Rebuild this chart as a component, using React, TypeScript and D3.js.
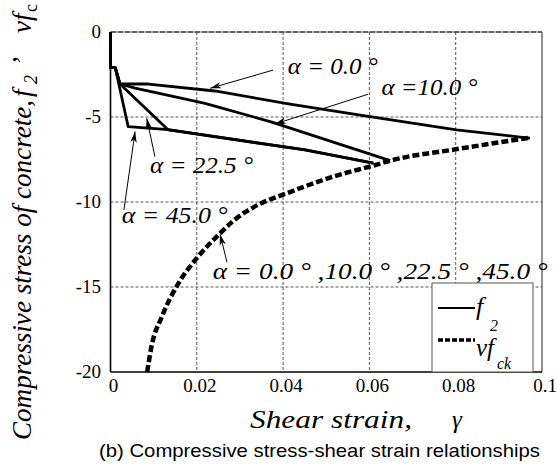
import React from 'react';
import * as d3 from 'd3';

// ---------- data ----------
const xTicks = [0, 0.02, 0.04, 0.06, 0.08, 0.1];
const xTickLabels = ['0', '0.02', '0.04', '0.06', '0.08', '0.1'];
const yTicks = [0, -5, -10, -15, -20];
const yTickLabels = ['0', '-5', '-10', '-15', '-20'];

// f2 curves (shear strain, compressive stress)
const strainA0 = [0, 0, 0.0011, 0.0022, 0.0088, 0.0242, 0.0416, 0.0601, 0.0802, 0.0949, 0.0972];
const stressA0 = [0, -2.1, -2.1, -3.06, -3.06, -3.47, -4.24, -4.98, -5.76, -6.18, -6.24];

const strainA10 = [0, 0, 0.0011, 0.0022, 0.0057, 0.0219, 0.0374, 0.0648];
const stressA10 = [0, -2.1, -2.1, -3.06, -3.3, -4.2, -5.3, -7.57];

const strainA22 = [0, 0, 0.0011, 0.0022, 0.0134, 0.0451, 0.0609];
const stressA22 = [0, -2.1, -2.1, -3.06, -5.76, -6.94, -7.72];

const strainA45 = [0, 0, 0.0011, 0.0041, 0.0134, 0.0451, 0.0609];
const stressA45 = [0, -2.1, -2.1, -5.57, -5.74, -6.94, -7.72];

// vf_ck curve
const vfckStrain = [0.0085, 0.0095, 0.0119, 0.0157, 0.02, 0.0254, 0.0285, 0.0339, 0.0408, 0.0516, 0.0617, 0.0648, 0.08, 0.0972];
const vfckStress = [-20, -18.5, -16.75, -14.8, -13.3, -11.84, -11.1, -10.2, -9.49, -8.51, -7.8, -7.57, -6.9, -6.22];

const angleLabels = ['α = 0.0 °', 'α =10.0 °', 'α = 22.5 °', 'α = 45.0 °', 'α = 0.0 ° ,10.0 ° ,22.5 ° ,45.0 °'];
const legendLabels = ['f', 'vf'];
const legendSubs = ['2', 'ck'];

const SERIF = "'Times New Roman'";
const SANS = "'Liberation Sans'";

export default function App() {
  const W = 557, H = 472;
  const x = d3.scaleLinear().domain([0, 0.1]).range([110.5, 542]);
  const y = d3.scaleLinear().domain([-20, 0]).range([372, 32]);

  const line = d3.line<[number, number]>().x(d => x(d[0])).y(d => y(d[1]));
  const curve = d3.line<[number, number]>().x(d => x(d[0])).y(d => y(d[1])).curve(d3.curveMonotoneX);

  const zip = (a: number[], b: number[]) => a.map((v, i) => [v, b[i]] as [number, number]);
  const solids = [zip(strainA0, stressA0), zip(strainA10, stressA10), zip(strainA22, stressA22), zip(strainA45, stressA45)];
  const dashed = zip(vfckStrain, vfckStress);

  const anns = [
    { i: 0, tx: 0.0411, ty: -2.47, len: 90, a: [0.0377, -2.24, 0.0231, -3.31] },
    { i: 1, tx: 0.0628, ty: -3.71, len: 96, a: [0.0597, -3.66, 0.0381, -5.41] },
    { i: 2, tx: 0.00915, ty: -8.31, len: 103, a: [0.0103, -7.34, 0.0084, -5.08] },
    { i: 3, tx: 0.0026, ty: -11.22, len: 106, a: [0.0031, -10.47, 0.0057, -5.86] },
    { i: 4, tx: 0.0237, ty: -14.5, len: 335, a: [0.027, -13.55, 0.0254, -11.9] },
  ];

  const serif = { fontFamily: SERIF };
  const serifI = { fontFamily: SERIF, fontStyle: 'italic' as const };

  return (
    <svg width={W} height={H} style={{ position: 'absolute', left: 0, top: 0, background: '#fff' }}>
      <defs>
        <marker id="arr" markerUnits="userSpaceOnUse" markerWidth="12" markerHeight="8" refX="11" refY="4" orient="auto">
          <path d="M0,0.8 L11,4 L0,7.2 L3,4 Z" fill="#000" />
        </marker>
      </defs>
      <rect x={0} y={0} width={W} height={H} fill="#fff" />

      {xTicks.slice(1, -1).map((t, i) => (
        <line key={'gx' + i} x1={x(t)} x2={x(t)} y1={y(0)} y2={y(-20)} stroke="#444" strokeWidth={0.9} strokeDasharray="3 2" />
      ))}
      {yTicks.slice(1, -1).map((t, i) => (
        <line key={'gy' + i} x1={x(0)} x2={x(0.1)} y1={y(t)} y2={y(t)} stroke="#444" strokeWidth={0.9} strokeDasharray="3 2" />
      ))}
      <line x1={x(0)} x2={x(0.1)} y1={y(0)} y2={y(0)} stroke="#333" strokeWidth={1.3} strokeDasharray="6 1" />
      <line x1={x(0.1)} x2={x(0.1)} y1={y(0)} y2={y(-20)} stroke="#555" strokeWidth={1.3} />
      <line x1={x(0)} x2={x(0)} y1={y(0)} y2={y(-20)} stroke="#000" strokeWidth={1.6} />
      <line x1={x(0)} x2={x(0.1)} y1={y(-20)} y2={y(-20)} stroke="#000" strokeWidth={1.6} />

      {yTicks.map((t, i) => (
        <text key={'yl' + i} x={101} y={y(t) + 6} textAnchor="end" style={serif} fontSize={19}>{yTickLabels[i]}</text>
      ))}
      {xTicks.map((t, i) => (
        <text key={'xl' + i} x={x(t) + 3} y={392} textAnchor="middle" style={serif} fontSize={19}>{xTickLabels[i]}</text>
      ))}

      {solids.map((d, i) => (
        <path key={'s' + i} d={line(d) || ''} fill="none" stroke="#000" strokeWidth={2.8} strokeLinejoin="round" />
      ))}
      <path d={curve(dashed) || ''} fill="none" stroke="#000" strokeWidth={4.5} strokeDasharray="7 3" />

      {anns.map((a, k) => (
        <g key={'an' + k}>
          <text x={x(a.tx)} y={y(a.ty)} style={serifI} fontSize={23}
            textLength={a.len} lengthAdjust="spacingAndGlyphs">{angleLabels[a.i]}</text>
          <line x1={x(a.a[0])} y1={y(a.a[1])} x2={x(a.a[2])} y2={y(a.a[3])} stroke="#000" strokeWidth={1} markerEnd="url(#arr)" />
        </g>
      ))}

      <rect x={432} y={283} width={101} height={89} fill="#fff" stroke="#555" strokeWidth={1} />
      <line x1={438} x2={475} y1={308} y2={308} stroke="#000" strokeWidth={2.2} />
      <line x1={438} x2={475} y1={340} y2={340} stroke="#000" strokeWidth={3.5} strokeDasharray="5 2" />
      <text x={476} y={315} style={serifI} fontSize={26}>{legendLabels[0]}</text>
      <text x={490} y={331} style={serifI} fontSize={16}>{legendSubs[0]}</text>
      <text x={476} y={356} style={serifI} fontSize={25}>{legendLabels[1]}</text>
      <text x={497} y={369} style={serifI} fontSize={16}>{legendSubs[1]}</text>

      <text x={250} y={428} style={serifI} fontSize={25} textLength={162} lengthAdjust="spacingAndGlyphs">Shear strain,</text>
      <text x={452} y={428} style={serifI} fontSize={25}>γ</text>

      <g style={serifI} fontSize={27}>
        <text transform="translate(31,440) rotate(-90)" textLength={340} lengthAdjust="spacingAndGlyphs">Compressive stress of concrete,</text>
        <text transform="translate(31,97) rotate(-90)">f</text>
        <text transform="translate(37,84) rotate(-90)" fontSize={18}>2</text>
        <text transform="translate(31,66) rotate(-90)">’</text>
        <text transform="translate(31,33) rotate(-90)">vf</text>
        <text transform="translate(37,12) rotate(-90)" style={{ fontFamily: SERIF, fontStyle: 'normal' }} fontSize={18}>c</text>
      </g>

      <text x={99} y={457} style={{ fontFamily: SANS }} fontSize={19} textLength={441} lengthAdjust="spacingAndGlyphs">(b) Compressive stress-shear strain relationships</text>
    </svg>
  );
}
